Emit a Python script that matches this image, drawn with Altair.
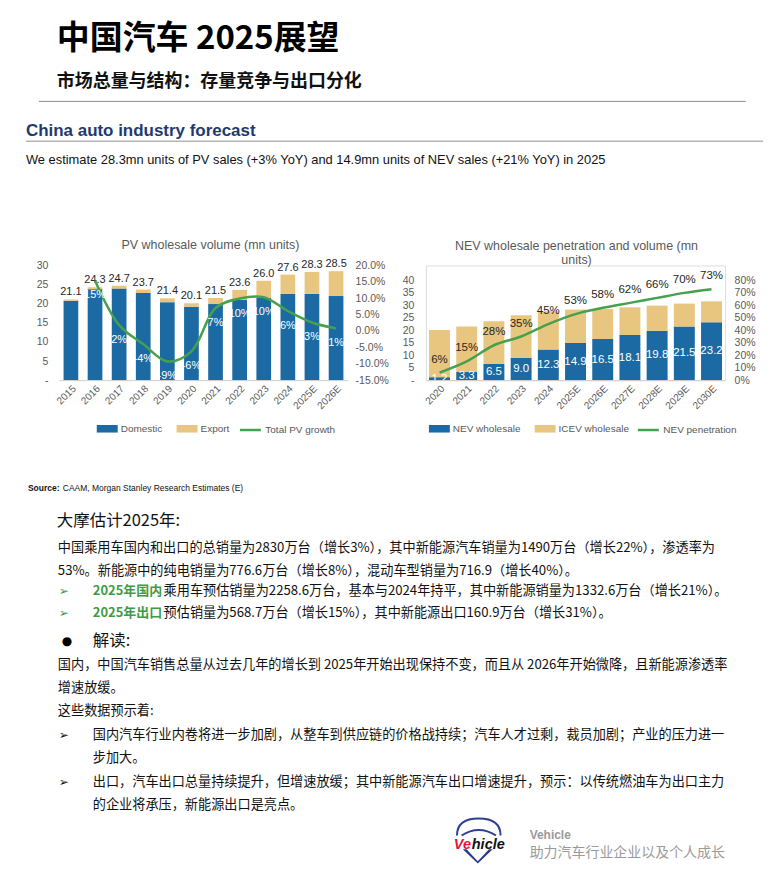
import altair as alt
import pandas as pd

# ---------------- data ----------------
pv_years = ["2015", "2016", "2017", "2018", "2019", "2020", "2021", "2022", "2023", "2024", "2025E", "2026E"]
pv_domestic = [20.8, 23.8, 24.0, 22.8, 20.4, 19.2, 19.9, 21.0, 21.5, 22.6, 22.6, 22.0]
pv_export = [0.3, 0.5, 0.7, 0.9, 1.0, 0.9, 1.6, 2.6, 4.5, 5.0, 5.7, 6.5]
pv_total = [21.1, 24.3, 24.7, 23.7, 21.4, 20.1, 21.5, 23.6, 26.0, 27.6, 28.3, 28.5]
pv_growth_years = ["2016", "2017", "2018", "2019", "2020", "2021", "2022", "2023", "2024", "2025E", "2026E"]
pv_growth = [0.154, 0.018, -0.040, -0.093, -0.062, 0.070, 0.099, 0.103, 0.061, 0.026, 0.008]

nev_years = ["2020", "2021", "2022", "2023", "2024", "2025E", "2026E", "2027E", "2028E", "2029E", "2030E"]
nev_wholesale = [1.2, 3.3, 6.5, 9.0, 12.3, 14.9, 16.5, 18.1, 19.8, 21.5, 23.2]
icev_wholesale = [18.9, 18.2, 17.1, 17.0, 15.3, 13.4, 12.0, 11.1, 10.1, 9.2, 8.4]
nev_penetration = [0.06, 0.15, 0.28, 0.35, 0.45, 0.53, 0.58, 0.62, 0.66, 0.70, 0.73]

pv_series = ["Domestic", "Export", "Total PV growth"]
nev_series = ["NEV wholesale", "ICEV wholesale", "NEV penetration"]

title_main = "中国汽车 2025展望"
title_sub = "市场总量与结构：存量竞争与出口分化"
section_title = "China auto industry forecast"
section_note = "We estimate 28.3mn units of PV sales (+3% YoY) and 14.9mn units of NEV sales (+21% YoY) in 2025"
pv_title = "PV wholesale volume (mn units)"
nev_title = ["NEV wholesale penetration and volume (mn", "units)"]
source_label = "Source:"
source_text = "CAAM, Morgan Stanley Research Estimates (E)"
est_head = "大摩估计2025年:"
est_lines = [
    "中国乘用车国内和出口的总销量为2830万台（增长3%），其中新能源汽车销量为1490万台（增长22%），渗透率为",
    "53%。新能源中的纯电销量为776.6万台（增长8%），混动车型销量为716.9（增长40%）。",
]
est_bullets = [
    ("2025年国内", "乘用车预估销量为2258.6万台，基本与2024年持平，其中新能源销量为1332.6万台（增长21%）。"),
    ("2025年出口", "预估销量为568.7万台（增长15%），其中新能源出口160.9万台（增长31%）。"),
]
read_head = "解读:"
read_lines = [
    "国内，中国汽车销售总量从过去几年的增长到 2025年开始出现保持不变，而且从 2026年开始微降，且新能源渗透率",
    "增速放缓。",
    "这些数据预示着:",
]
read_bullets = [
    ["国内汽车行业内卷将进一步加剧，从整车到供应链的价格战持续；汽车人才过剩，裁员加剧；产业的压力进一", "步加大。"],
    ["出口，汽车出口总量持续提升，但增速放缓；其中新能源汽车出口增速提升，预示：以传统燃油车为出口主力", "的企业将承压，新能源出口是亮点。"],
]
brand_name = "Vehicle"
brand_slogan = "助力汽车行业企业以及个人成长"

# ---------------- styles ----------------
BLUE = "#1c6aa3"
TAN = "#e8c67f"
GREEN = "#46a04e"
GREY = "#595959"
LAT = "Liberation Sans"
CJK = "Noto Sans CJK SC"
RECT = "M-1,-0.36H1V0.36H-1Z"
MINUS_FIX = "replace(datum.label, '\u2212', '-')"

PV_O = (58, 264)   # page position of PV plot origin
NEV_O = (426, 264)  # page position of NEV plot origin
ONE = [{"k": 1}]


def T(s, px, py, size, color="#111111", weight="normal", font=CJK, origin=PV_O,
      align="left", baseline="middle", italic=False):
    return alt.Chart(alt.Data(values=ONE)).mark_text(
        align=align, baseline=baseline, fontSize=size, font=font, fontWeight=weight,
        color=color, fontStyle="italic" if italic else "normal"
    ).encode(x=alt.value(px - origin[0]), y=alt.value(py - origin[1]), text=alt.value(s))


def R(px1, px2, py, color, width):
    return alt.Chart(alt.Data(values=ONE)).mark_rule(color=color, strokeWidth=width).encode(
        x=alt.value(px1 - PV_O[0]), x2=alt.value(px2 - PV_O[0]), y=alt.value(py - PV_O[1]))


def SHAPE(path, px, py, size, color, filled, sw=0):
    return alt.Chart(alt.Data(values=ONE)).mark_point(
        shape=path, size=size, filled=filled, color=color, strokeWidth=sw, opacity=1
    ).encode(x=alt.value(px - PV_O[0]), y=alt.value(py - PV_O[1]))


def legend(x, y, stype, swidth=0):
    return alt.Legend(orient="none", legendX=x, legendY=y, direction="horizontal", title=None,
                      symbolType=stype, symbolSize=441, symbolStrokeWidth=swidth,
                      labelFont=LAT, labelFontSize=10, labelColor=GREY, labelOffset=3,
                      columnPadding=14, padding=0, symbolOpacity=1)


def xaxis():
    return alt.Axis(title=None, labelAngle=-45, labelFont=LAT, labelFontSize=10, labelColor=GREY,
                    ticks=False, domainColor="#d0d0d0", labelPadding=3, grid=False, zindex=1)


def laxis(values, pad):
    return alt.Axis(title=None, values=values, labelFont=LAT, labelFontSize=10.5, labelColor=GREY,
                    ticks=False, domain=False, grid=False, labelPadding=pad, zindex=1,
                    labelExpr="datum.value == 0 ? '-\u00a0\u00a0' : datum.label")


def raxis(values, fmt, pad):
    return alt.Axis(title=None, orient="right", values=values, format=fmt, labelFont=LAT,
                    labelFontSize=10.5, labelColor=GREY, ticks=False, domain=False, grid=False,
                    labelPadding=pad, labelExpr=MINUS_FIX, zindex=1)


LEG_Y = 153

# ---------------- PV chart ----------------
pv_long = pd.DataFrame({
    "year": pv_years * 2,
    "series": [pv_series[0]] * len(pv_years) + [pv_series[1]] * len(pv_years),
    "value": pv_domestic + pv_export,
    "ord": [0] * len(pv_years) + [1] * len(pv_years),
})
pv_tot = pd.DataFrame({"year": pv_years, "total": pv_total})
pv_g = pd.DataFrame({"year": pv_growth_years, "growth": pv_growth, "name": pv_series[2]})

xpv = alt.X("year:N", scale=alt.Scale(domain=pv_years, paddingInner=0.39, paddingOuter=0.195), axis=xaxis())
ypv_scale = alt.Scale(domain=[0, 30], nice=False, zero=True)
ypv_axis = laxis([0, 5, 10, 15, 20, 25, 30], 11)

pv_bars = alt.Chart(pv_long).mark_bar().encode(
    x=xpv,
    y=alt.Y("value:Q", stack="zero", scale=ypv_scale, axis=ypv_axis),
    color=alt.Color("series:N", scale=alt.Scale(domain=pv_series[:2], range=[BLUE, TAN]),
                    legend=legend(38, LEG_Y, RECT)),
    order=alt.Order("ord:Q"),
)
pv_totals = alt.Chart(pv_tot).mark_text(dy=-7, fontSize=11, font=LAT, color="#262626").encode(
    x=xpv, y=alt.Y("total:Q", scale=ypv_scale, axis=ypv_axis), text=alt.Text("total:Q", format=".1f"))

ypg_scale = alt.Scale(domain=[-0.15, 0.20], nice=False, zero=False)
ypg_axis = raxis([-0.15, -0.1, -0.05, 0, 0.05, 0.1, 0.15, 0.2], ".1%", 7)
pv_line = alt.Chart(pv_g).mark_line(interpolate="catmull-rom", strokeWidth=2.5).encode(
    x=xpv,
    y=alt.Y("growth:Q", scale=ypg_scale, axis=ypg_axis),
    stroke=alt.Stroke("name:N", scale=alt.Scale(domain=[pv_series[2]], range=[GREEN]),
                      legend=legend(180, LEG_Y, "stroke", 2.5)),
)
pv_glabels = alt.Chart(pv_g).transform_calculate(
    lab="replace(format(datum.growth, '.0%'), '\u2212', '-')"
).mark_text(dy=15, fontSize=11, font=LAT, color="white").encode(
    x=xpv, y=alt.Y("growth:Q", scale=ypg_scale, axis=ypg_axis), text="lab:N")

bg = alt.Chart(alt.Data(values=ONE)).mark_rect(color="white").encode(
    x=alt.value(8 - PV_O[0]), x2=alt.value(774 - PV_O[0]),
    y=alt.value(8 - PV_O[1]), y2=alt.value(866 - PV_O[1]))

BODY = 13.2
deco = [
    T(title_main, 56, 37, 33, "#000000", "bold"),
    T(title_sub, 56, 80, 18, "#111111", "bold"),
    R(38, 747, 99.5, "#8c8c8c", 1),
    T(section_title, 25, 129, 17, "#1f3a6e", "bold", LAT),
    R(25, 764, 139.5, "#b5b5b5", 1.5),
    T(section_note, 25, 158, 12.9, "#111111", "normal", LAT),
    T(pv_title, 210, 244, 12.5, GREY, "normal", LAT, align="center"),
    T(source_label, 27, 487, 8.5, "#111111", "bold", LAT),
    T(source_text, 62, 487, 8.5, "#111111", "normal", LAT),
    T(est_head, 56, 520, 16.5),
]
for s, yy in zip(est_lines, [547, 570]):
    deco.append(T(s, 57, yy, BODY))
for (g, rest), yy in zip(est_bullets, [590, 612]):
    deco.append(T("\u27a2", 58, yy, 12, "#3e9a3e", "normal", "DejaVu Sans"))
    deco.append(T(g, 92, yy, 13, "#3f9b45", "bold"))
    deco.append(T(rest, 163, yy, BODY))
deco.append(T("\u25cf", 61, 641, 12, "#000000", "normal", "DejaVu Sans"))
deco.append(T(read_head, 92, 641, 16.5))
for s, yy in zip(read_lines, [665, 688, 711]):
    deco.append(T(s, 57, yy, BODY))
for lines, yy in zip(read_bullets, [735, 782]):
    deco.append(T("\u27a2", 58, yy, 12, "#111111", "normal", "DejaVu Sans"))
    deco.append(T(lines[0], 92, yy, BODY))
    deco.append(T(lines[1], 92, yy + 23, BODY))
# logo
deco += [
    SHAPE("M-0.95,0.37 Q-0.95,-0.37 0,-0.37 Q0.95,-0.37 0.95,0.37 M-0.75,0.37 Q0,-0.1 0.75,0.37",
          479, 827, 2116, "#2f3f94", False, 2),
    SHAPE("M-1,-0.45 L-0.75,-0.45 L0,0.35 L0.75,-0.45 L1,-0.45 L0,0.5 Z", 478, 856, 900, "#2b3a8c", True),
    T("Ve", 454, 845, 14.5, "#e0173c", "bold", LAT, italic=True),
    T("hicle", 472, 845, 14.5, "#111111", "bold", LAT, italic=True),
    T(brand_name, 530, 835, 12, "#9a9a9a", "bold", LAT),
    T(brand_slogan, 530, 853, 14, "#9a9a9a"),
]

pv = alt.layer(
    bg,
    alt.layer(pv_bars, pv_totals),
    alt.layer(pv_line, pv_glabels),
    *deco,
).resolve_scale(y="independent").properties(width=290, height=115)

# ---------------- NEV chart ----------------
nev_long = pd.DataFrame({
    "year": nev_years * 2,
    "series": [nev_series[0]] * len(nev_years) + [nev_series[1]] * len(nev_years),
    "value": nev_wholesale + icev_wholesale,
    "ord": [0] * len(nev_years) + [1] * len(nev_years),
})
nev_df = pd.DataFrame({"year": nev_years, "nev": nev_wholesale, "pen": nev_penetration,
                       "name": nev_series[2]})

xnev = alt.X("year:N", scale=alt.Scale(domain=nev_years, paddingInner=0.23, paddingOuter=0.115), axis=xaxis())
ynev_scale = alt.Scale(domain=[0, 46], nice=False, zero=True)
ynev_axis = laxis([0, 5, 10, 15, 20, 25, 30, 35, 40], 12)

nev_bars = alt.Chart(nev_long).mark_bar().encode(
    x=xnev,
    y=alt.Y("value:Q", stack="zero", scale=ynev_scale, axis=ynev_axis),
    color=alt.Color("series:N", scale=alt.Scale(domain=nev_series[:2], range=[BLUE, TAN]),
                    legend=legend(3, LEG_Y, RECT)),
    order=alt.Order("ord:Q"),
)
nev_labels = alt.Chart(nev_df).transform_calculate(mid="datum.nev / 2").mark_text(
    fontSize=11.5, font=LAT, color="white").encode(
    x=xnev, y=alt.Y("mid:Q", scale=ynev_scale, axis=ynev_axis), text=alt.Text("nev:Q", format=".1f"))

ypen_scale = alt.Scale(domain=[0, 0.92], nice=False, zero=True)
ypen_axis = raxis([0, 0.1, 0.2, 0.3, 0.4, 0.5, 0.6, 0.7, 0.8], ".0%", 9)
nev_line = alt.Chart(nev_df).mark_line(interpolate="monotone", strokeWidth=2.5).encode(
    x=xnev,
    y=alt.Y("pen:Q", scale=ypen_scale, axis=ypen_axis),
    stroke=alt.Stroke("name:N", scale=alt.Scale(domain=[nev_series[2]], range=[GREEN]),
                      legend=legend(211, LEG_Y, "stroke", 2.5)),
)
nev_plabels = alt.Chart(nev_df).mark_text(dy=-13, fontSize=11.5, font=LAT, color="#262626").encode(
    x=xnev, y=alt.Y("pen:Q", scale=ypen_scale, axis=ypen_axis), text=alt.Text("pen:Q", format=".0%"))

nev = alt.layer(
    alt.layer(nev_bars, nev_labels),
    alt.layer(nev_line, nev_plabels),
    T(nev_title[0], 577, 245, 12.5, GREY, "normal", LAT, origin=NEV_O, align="center"),
    T(nev_title[1], 577, 259, 12.5, GREY, "normal", LAT, origin=NEV_O, align="center"),
).resolve_scale(y="independent").properties(width=300, height=115)

chart = alt.hconcat(pv, nev, spacing=78, bounds="flush").resolve_scale(
    color="independent", stroke="independent"
).resolve_legend(color="independent", stroke="independent").properties(
    padding=0, autosize=alt.AutoSizeParams(type="pad")
).configure_view(stroke=None).configure(background="white")

chart.save("out.html", embed_options={"renderer": "svg", "actions": False})
